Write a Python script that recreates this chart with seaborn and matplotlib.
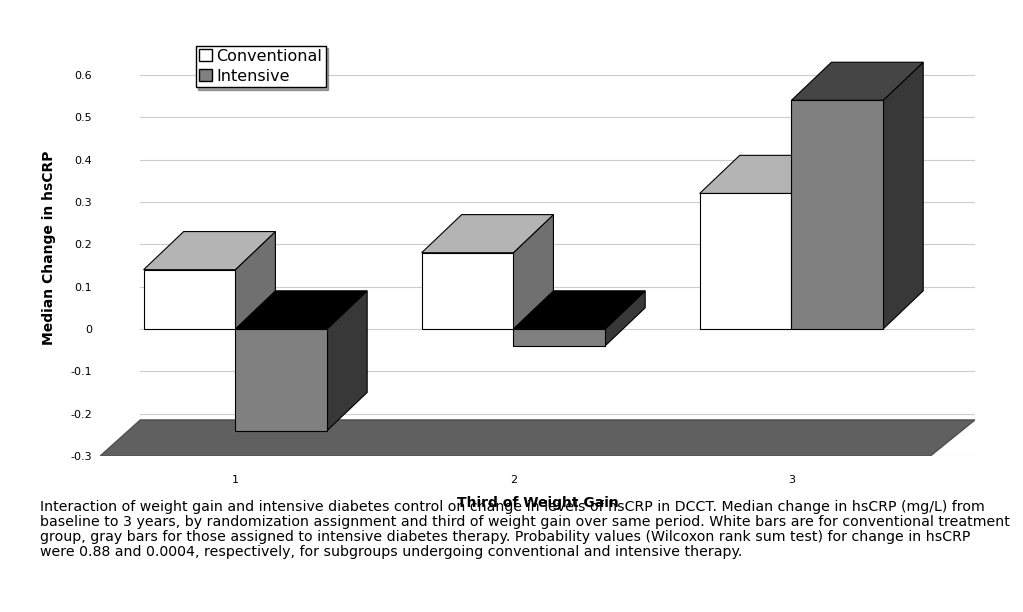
import pandas as pd
import matplotlib.pyplot as plt
import seaborn as sns
from matplotlib.patches import Polygon, Patch

# data (front faces of the bars)
groups = ['1', '2', '3']
conventional = [0.14, 0.18, 0.32]
intensive = [-0.24, -0.04, 0.54]
series_names = ['Conventional', 'Intensive']
y_ticks = [0.6, 0.5, 0.4, 0.3, 0.2, 0.1, 0, -0.1, -0.2, -0.3]

caption = ("Interaction of weight gain and intensive diabetes control on change in levels of hsCRP in DCCT. Median change in hsCRP (mg/L) from\n"
           "baseline to 3 years, by randomization assignment and third of weight gain over same period. White bars are for conventional treatment\n"
           "group, gray bars for those assigned to intensive diabetes therapy. Probability values (Wilcoxon rank sum test) for change in hsCRP\n"
           "were 0.88 and 0.0004, respectively, for subgroups undergoing conventional and intensive therapy.")

df = pd.DataFrame({
    'group': groups * 2,
    'series': [series_names[0]] * 3 + [series_names[1]] * 3,
    'value': conventional + intensive,
})

fig = plt.figure(figsize=(10.23, 6.12), dpi=100)
ax = fig.add_axes([0.098, 0.255, 0.855, 0.68])

# depth offsets for the pseudo-3D look
dx, dy = 0.144, 0.09
ymin, ymax = -0.3, 0.683
xmin, xmax = -0.486, 2.66

sns.barplot(data=df, x='group', y='value', hue='series', order=groups, hue_order=series_names,
            palette=['white', '#808080'], width=0.66, edgecolor='black', linewidth=0.8,
            legend=False, ax=ax, zorder=5)

# back wall gridlines
for t in y_ticks:
    ax.plot([xmin + dx, xmax], [t, t], color='#cccccc', lw=0.8, zorder=0)

# floor
ax.add_patch(Polygon([(xmin, ymin), (2.5, ymin), (xmax, ymin + 0.085), (xmin + dx, ymin + 0.085)],
                     closed=True, facecolor='#606060', edgecolor='#505050', zorder=1))

shades = {series_names[0]: ('#b4b4b4', '#707070'), series_names[1]: ('#454545', '#383838')}
for name, cont in zip(series_names, ax.containers):
    for p in cont:
        x0 = p.get_x()
        x1 = x0 + p.get_width()
        h = p.get_height()
        lo, hi = min(0, h), max(0, h)
        top_c, side_c = shades[name]
        if h < 0:
            top_c = 'black'
        z = 3 if name == series_names[1] else 4
        ax.add_patch(Polygon([(x1, lo), (x1, hi), (x1 + dx, hi + dy), (x1 + dx, lo + dy)],
                             closed=True, facecolor=side_c, edgecolor='black', lw=0.8, zorder=z))
        ax.add_patch(Polygon([(x0, hi), (x1, hi), (x1 + dx, hi + dy), (x0 + dx, hi + dy)],
                             closed=True, facecolor=top_c, edgecolor='black', lw=0.8, zorder=z))

ax.set_xlim(xmin, xmax)
ax.set_ylim(ymin, ymax)
ax.set_yticks(y_ticks)
ax.set_yticklabels([str(t) for t in y_ticks], fontsize=8)
ax.tick_params(length=0, pad=6)
ax.tick_params(axis='x', labelsize=8, pad=14)
for s in ax.spines.values():
    s.set_visible(False)
ax.set_ylabel('Median Change in hsCRP', fontsize=10, fontweight='bold', labelpad=10)
ax.set_xlabel('Third of Weight Gain', fontsize=10, fontweight='bold', labelpad=8)

handles = [Patch(facecolor='white', edgecolor='black', label=series_names[0]),
           Patch(facecolor='#808080', edgecolor='black', label=series_names[1])]
leg = ax.legend(handles=handles, loc='upper left', bbox_to_anchor=(0.1, 1.005), fontsize=11.5,
                frameon=True, fancybox=False, shadow=True, edgecolor='black',
                handlelength=0.8, handleheight=0.8, handletextpad=0.3, borderpad=0.2, labelspacing=0.3)
leg.set_zorder(10)

fig.text(0.039, 0.135, caption, fontsize=10.2, va='center', ha='left', linespacing=1.1)

fig.savefig('out.png', dpi=100, facecolor='white')
